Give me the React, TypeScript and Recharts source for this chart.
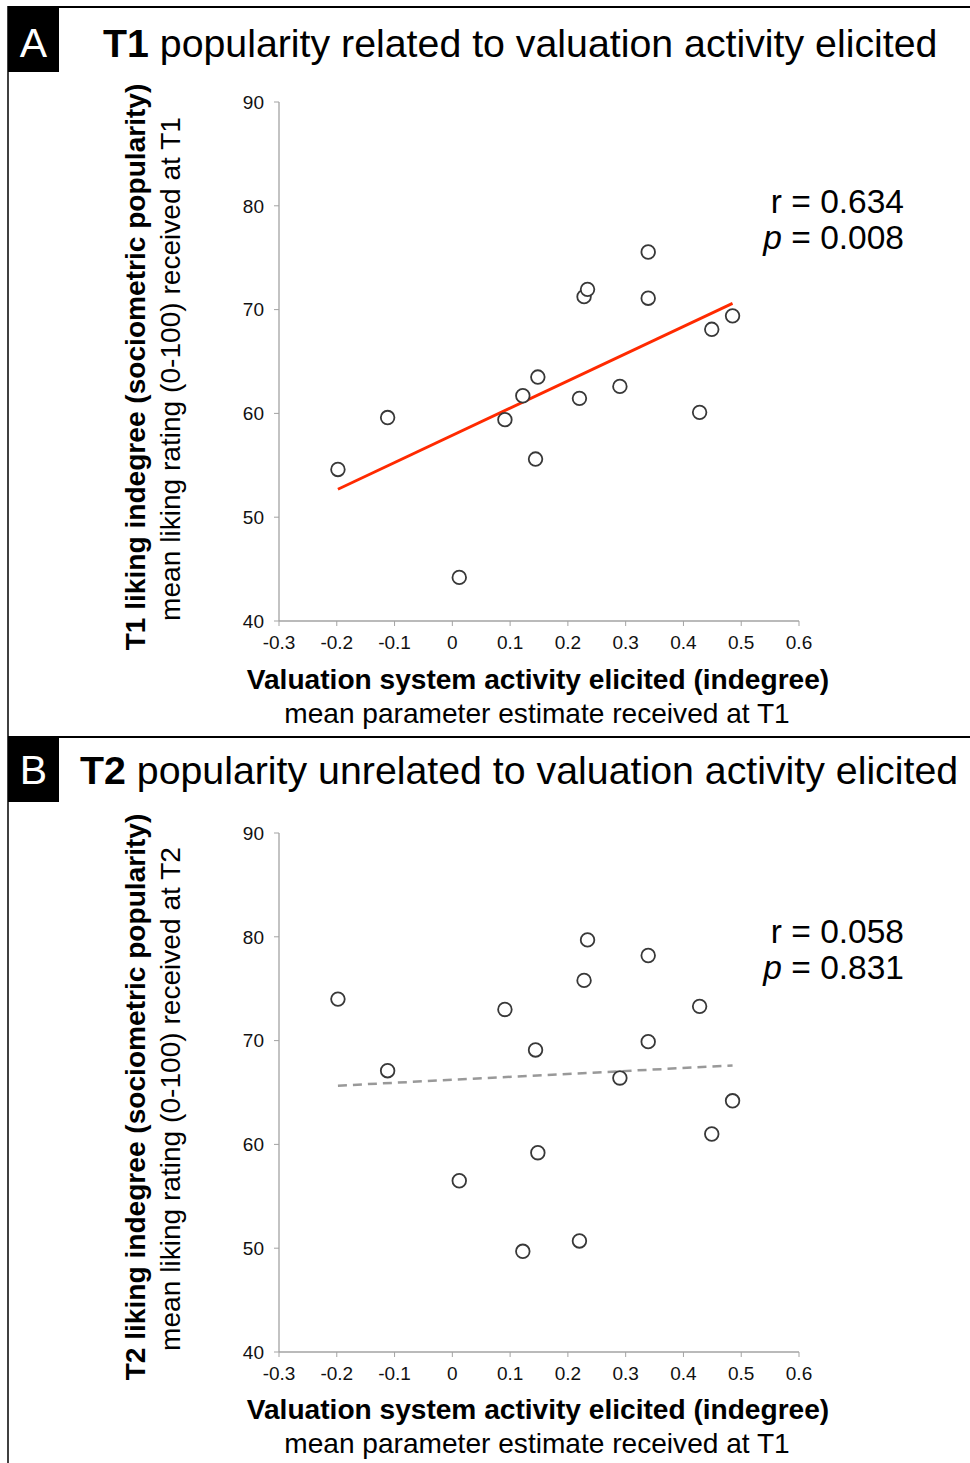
import { ReferenceLine, Scatter, ScatterChart, XAxis, YAxis } from 'recharts';

const FONT = '"Liberation Sans", Arial, Helvetica, sans-serif';

// activity elicited (same subjects in both panels)
const activity = [-0.198, -0.112, 0.012, 0.091, 0.122, 0.144, 0.148, 0.22, 0.228, 0.234, 0.29, 0.339, 0.339, 0.428, 0.449, 0.485];
const likingT1 = [54.6, 59.6, 44.2, 59.4, 61.7, 55.6, 63.5, 61.45, 71.25, 71.95, 62.6, 75.55, 71.1, 60.1, 68.1, 69.4];
const likingT2 = [74.0, 67.1, 56.5, 73.0, 49.7, 69.1, 59.2, 50.7, 75.8, 79.7, 66.4, 78.2, 69.9, 73.3, 61.0, 64.2];

const xTicks = [-0.3, -0.2, -0.1, 0, 0.1, 0.2, 0.3, 0.4, 0.5, 0.6];
const yTicks = [40, 50, 60, 70, 80, 90];

// fit line end points
const fitT1 = [{ x: -0.198, y: 52.7 }, { x: 0.485, y: 70.6 }];
const fitT2 = [{ x: -0.198, y: 65.66 }, { x: 0.485, y: 67.6 }];

const AXIS = '#a3a3a3';

function OpenDot(props: any) {
  const { cx, cy } = props;
  if (cx == null || cy == null) return null;
  return <circle cx={cx} cy={cy} r={6.8} fill="#fff" stroke="#383838" strokeWidth={1.8} />;
}

interface PanelProps {
  top: number;
  ys: number[];
  fit: { x: number; y: number }[];
  fitColor: string;
  dashed?: boolean;
}

function Panel({ top, ys, fit, fitColor, dashed }: PanelProps) {
  const data = activity.map((x, i) => ({ x, y: ys[i] }));
  return (
    <div style={{ position: 'absolute', left: 0, top, width: 970, height: 730 }}>
      <ScatterChart width={970} height={730} margin={{ top: 102, right: 171, bottom: 79, left: 0 }}>
        <XAxis
          type="number"
          dataKey="x"
          domain={[-0.3, 0.6]}
          ticks={xTicks}
          height={30}
          interval={0}
          tickSize={5}
          tickMargin={10}
          axisLine={{ stroke: AXIS, strokeWidth: 1.3 }}
          tickLine={{ stroke: AXIS }}
          tick={{ fill: '#111', fontSize: 19, fontFamily: FONT }}
          tickFormatter={(v: number) => String(v)}
        />
        <YAxis
          type="number"
          dataKey="y"
          domain={[40, 90]}
          ticks={yTicks}
          width={279}
          interval={0}
          tickSize={5}
          tickMargin={10}
          axisLine={{ stroke: AXIS, strokeWidth: 1.3 }}
          tickLine={{ stroke: AXIS }}
          tick={{ fill: '#111', fontSize: 19, fontFamily: FONT }}
        />
        <ReferenceLine
          segment={fit}
          stroke={fitColor}
          strokeWidth={dashed ? 2.5 : 2.8}
          strokeDasharray={dashed ? '9 6' : undefined}
        />
        <Scatter data={data} shape={OpenDot} isAnimationActive={false} />
      </ScatterChart>
    </div>
  );
}

interface LabelsProps {
  dy: number;
  headShift?: number;
  letter: string;
  lead: string;
  rest: string;
  titleX: number;
  yBold: string;
  ySub: string;
  r: string;
  p: string;
}

function PanelText({ dy, headShift = 0, letter, lead, rest, titleX, yBold, ySub, r, p }: LabelsProps) {
  return (
    <g transform={`translate(0, ${dy})`} fontFamily={FONT} fill="#000">
      <rect x={8} y={7} width={51} height={65} fill="#000" />
      <text x={33.5} y={57 + headShift} textAnchor="middle" fontSize={41} fill="#fff">{letter}</text>
      <text x={titleX} y={57 + headShift} fontSize={39.3}>
        <tspan fontWeight="bold">{lead}</tspan> {rest}
      </text>
      <text transform="translate(135, 367) rotate(-90)" textAnchor="middle" dominantBaseline="central" fontSize={28.1} fontWeight="bold">
        {yBold}
      </text>
      <text transform="translate(170, 369) rotate(-90)" textAnchor="middle" dominantBaseline="central" fontSize={28.1}>
        {ySub}
      </text>
      <text x={538} y={689} textAnchor="middle" fontSize={28.1} fontWeight="bold">
        Valuation system activity elicited (indegree)
      </text>
      <text x={537} y={723} textAnchor="middle" fontSize={28.1}>
        mean parameter estimate received at T1
      </text>
      <text x={904} y={213} textAnchor="end" fontSize={33.5}>r = {r}</text>
      <text x={904} y={249} textAnchor="end" fontSize={33.5}>
        <tspan fontStyle="italic">p</tspan> = {p}
      </text>
    </g>
  );
}

export default function App() {
  return (
    <div style={{ position: 'absolute', left: 0, top: 0, width: 970, height: 1463, background: '#fff', fontFamily: FONT }}>
      <Panel top={0} ys={likingT1} fit={fitT1} fitColor="#ff2a00" />
      <Panel top={731} ys={likingT2} fit={fitT2} fitColor="#999" dashed />
      <svg width={970} height={1463} style={{ position: 'absolute', left: 0, top: 0, pointerEvents: 'none' }}>
        <line x1={8} y1={7} x2={970} y2={7} stroke="#000" strokeWidth={2} />
        <line x1={8} y1={737} x2={970} y2={737} stroke="#000" strokeWidth={2} />
        <line x1={8} y1={6} x2={8} y2={1463} stroke="#000" strokeWidth={1.5} />
        <PanelText
          dy={0}
          letter="A"
          lead="T1"
          rest="popularity related to valuation activity elicited"
          titleX={103}
          yBold="T1 liking indegree (sociometric popularity)"
          ySub="mean liking rating (0-100) received at T1"
          r="0.634"
          p="0.008"
        />
        <PanelText
          dy={730}
          headShift={-3}
          letter="B"
          lead="T2"
          rest="popularity unrelated to valuation activity elicited"
          titleX={80}
          yBold="T2 liking indegree (sociometric popularity)"
          ySub="mean liking rating (0-100) received at T2"
          r="0.058"
          p="0.831"
        />
      </svg>
    </div>
  );
}
